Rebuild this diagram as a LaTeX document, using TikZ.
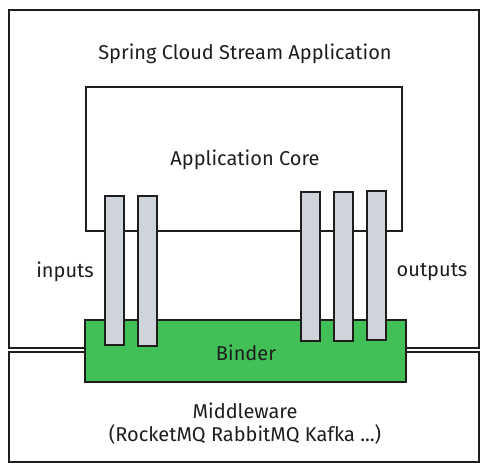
\documentclass[tikz,border=0pt]{standalone}
\usepackage{fontspec}
\setmainfont{Fira Sans}
\usepackage{tikz}

\definecolor{bindergreen}{HTML}{40C057}
\definecolor{portgray}{HTML}{CED4DA}
\definecolor{inkline}{HTML}{1E1E1E}

\tikzset{
    box/.style={draw=inkline, line width=1.2pt},
    port/.style={box, fill=portgray},
    caption/.style={font=\fontsize{20}{23}\selectfont, text=inkline, align=center}
}

\begin{document}
\begin{tikzpicture}[x=1pt, y=-1pt]
    \useasboundingbox (0, 0) rectangle (489, 472);
    % application, middleware and core
    \draw[box] (9, 10) rectangle (479, 348);
    \draw[box] (9, 352) rectangle (479, 462);
    \draw[box] (86, 87) rectangle (402, 231);
    % binder
    \filldraw[box, fill=bindergreen] (85, 320) rectangle (406, 382);
    % inputs and outputs
    \foreach \x/\t/\b in {105/196/345, 138/196/346, 301/192/341, 334/192/341, 367/191/340} {
        \filldraw[port] ({\x}, {\t}) rectangle ({\x+19}, {\b});
    }
    \node[caption] (app) at (245, 54) {Spring Cloud Stream Application};
    \node[caption] (core) at (245, 160) {Application Core};
    \node[caption] (inputs) at (65, 272) {inputs};
    \node[caption] (outputs) at (432, 272) {outputs};
    \node[caption] (binder) at (246, 353) {Binder};
    \node[caption] (middleware) at (245, 424) {Middleware\\(RocketMQ RabbitMQ Kafka ...)};
\end{tikzpicture}
\end{document}
